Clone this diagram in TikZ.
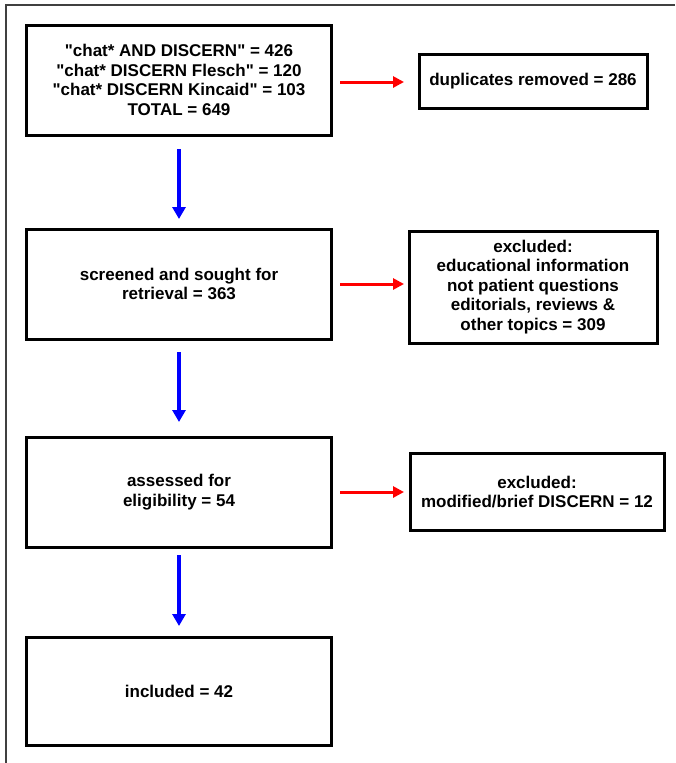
\documentclass[tikz,border=0pt]{standalone}
\usepackage{fontspec}
\setmainfont{Liberation Sans}[Ligatures=TeXOff]
\usetikzlibrary{arrows.meta}
\begin{document}
\begin{tikzpicture}[x=1pt,y=-1pt,
  box/.style={draw=black, line width=3pt, align=center, inner sep=0pt,
    font=\fontsize{17}{19.5}\selectfont\bfseries},
  blue arrow/.style={draw=blue, line width=3.5pt, -{Triangle[length=12pt,width=13pt]}},
  red arrow/.style={draw=red, line width=3pt, -{Triangle[length=11pt,width=11pt]}}]
\useasboundingbox (0,0) rectangle (675,763);
\draw[line width=1.5pt, draw=black!75] (6,763) -- (6,5) -- (675,5);
% main column boxes
\node[box, minimum width=305, minimum height=110] (b1) at (179,80)
  {"chat* AND DISCERN" = 426\\"chat* DISCERN Flesch" = 120\\"chat* DISCERN Kincaid" = 103\\TOTAL = 649};
\node[box, minimum width=305, minimum height=110] (b2) at (179,284)
  {screened and sought for\\retrieval = 363};
\node[box, minimum width=305, minimum height=110] (b3) at (179,492)
  {assessed for\\eligibility = 54};
\node[box, minimum width=305, minimum height=108] (b4) at (179,691)
  {included = 42};
% side boxes
\node[box, minimum width=228, minimum height=54] (d1) at (533,81)
  {duplicates removed = 286};
\node[box, minimum width=248, minimum height=112] (d2) at (533,287)
  {excluded:\\educational information\\not patient questions\\editorials, reviews \&\\other topics = 309};
\node[box, minimum width=254, minimum height=77] (d3) at (537,492)
  {excluded:\\modified/brief DISCERN = 12};
% connector end points
\coordinate (a1s) at (179,149); \coordinate (a1e) at (179,219);
\coordinate (a2s) at (179,352); \coordinate (a2e) at (179,422);
\coordinate (a3s) at (179,555); \coordinate (a3e) at (179,626);
\coordinate (r1s) at (340,82); \coordinate (r1e) at (404,82);
\coordinate (r2s) at (340,284); \coordinate (r2e) at (404,284);
\coordinate (r3s) at (340,492); \coordinate (r3e) at (404,492);
\draw[blue arrow] (a1s) -- (a1e);
\draw[blue arrow] (a2s) -- (a2e);
\draw[blue arrow] (a3s) -- (a3e);
\draw[red arrow] (r1s) -- (r1e);
\draw[red arrow] (r2s) -- (r2e);
\draw[red arrow] (r3s) -- (r3e);
\end{tikzpicture}
\end{document}
